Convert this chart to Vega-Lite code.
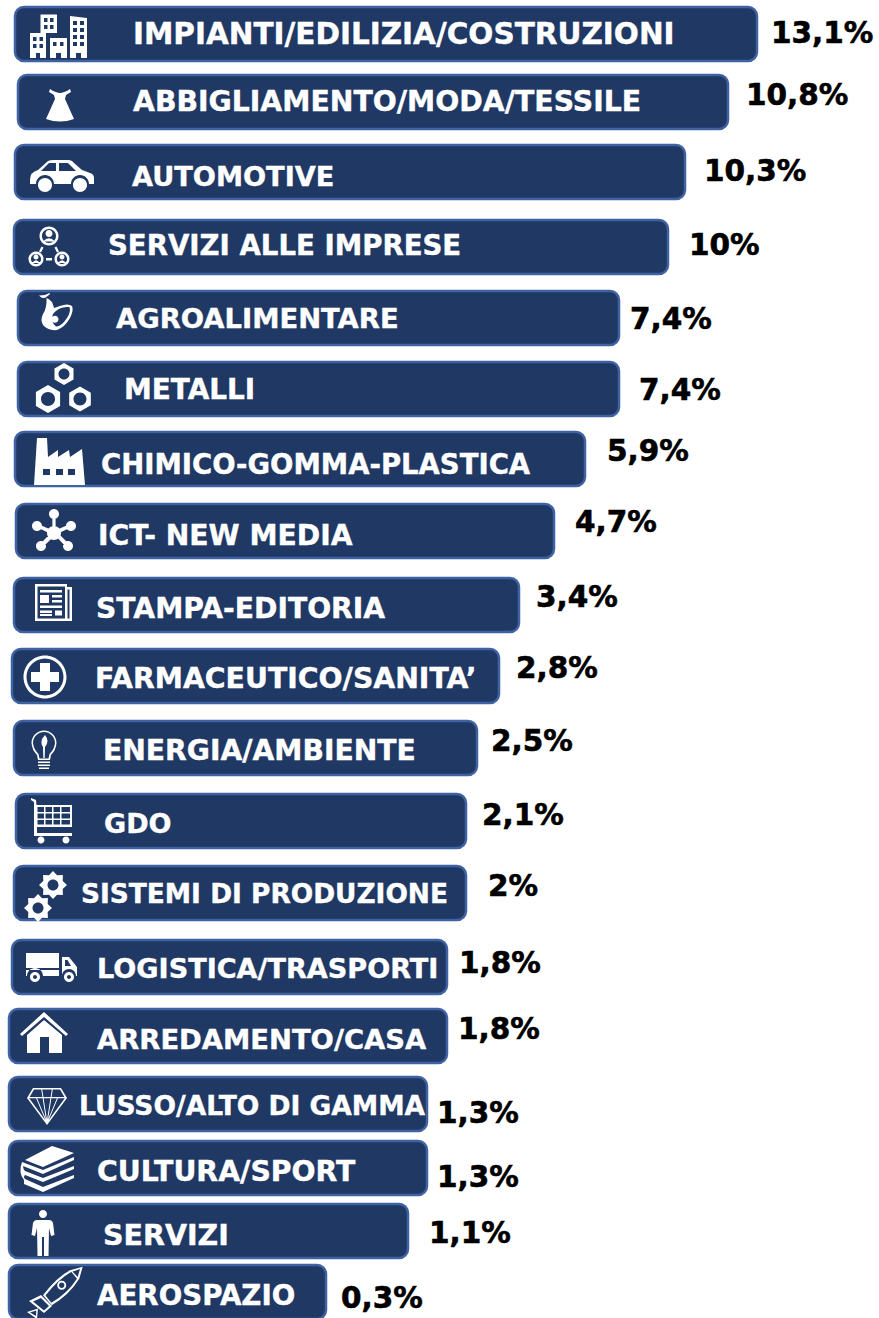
{
"$schema":"https://vega.github.io/schema/vega-lite/v6.json",
"width":879,"height":1318,"padding":0,"autosize":{"type":"none"},"background":"white",
"config":{"view":{"stroke":null},"axis":{"domain":false}},
"data":{"values":[
{"rank":1,"settore":"IMPIANTI/EDILIZIA/COSTRUZIONI","valore":13.1,"etichetta":"13,1%"},
{"rank":2,"settore":"ABBIGLIAMENTO/MODA/TESSILE","valore":10.8,"etichetta":"10,8%"},
{"rank":3,"settore":"AUTOMOTIVE","valore":10.3,"etichetta":"10,3%"},
{"rank":4,"settore":"SERVIZI ALLE IMPRESE","valore":10,"etichetta":"10%"},
{"rank":5,"settore":"AGROALIMENTARE","valore":7.4,"etichetta":"7,4%"},
{"rank":6,"settore":"METALLI","valore":7.4,"etichetta":"7,4%"},
{"rank":7,"settore":"CHIMICO-GOMMA-PLASTICA","valore":5.9,"etichetta":"5,9%"},
{"rank":8,"settore":"ICT- NEW MEDIA","valore":4.7,"etichetta":"4,7%"},
{"rank":9,"settore":"STAMPA-EDITORIA","valore":3.4,"etichetta":"3,4%"},
{"rank":10,"settore":"FARMACEUTICO/SANITA’","valore":2.8,"etichetta":"2,8%"},
{"rank":11,"settore":"ENERGIA/AMBIENTE","valore":2.5,"etichetta":"2,5%"},
{"rank":12,"settore":"GDO","valore":2.1,"etichetta":"2,1%"},
{"rank":13,"settore":"SISTEMI DI PRODUZIONE","valore":2,"etichetta":"2%"},
{"rank":14,"settore":"LOGISTICA/TRASPORTI","valore":1.8,"etichetta":"1,8%"},
{"rank":15,"settore":"ARREDAMENTO/CASA","valore":1.8,"etichetta":"1,8%"},
{"rank":16,"settore":"LUSSO/ALTO DI GAMMA","valore":1.3,"etichetta":"1,3%"},
{"rank":17,"settore":"CULTURA/SPORT","valore":1.3,"etichetta":"1,3%"},
{"rank":18,"settore":"SERVIZI","valore":1.1,"etichetta":"1,1%"},
{"rank":19,"settore":"AEROSPAZIO","valore":0.3,"etichetta":"0,3%"}
]},
"resolve":{"scale":{"x":"independent","y":"independent","size":"independent","shape":"independent"}},
"layer":[
{"transform":[{"calculate":"-datum.rank","as":"inizio"}],
 "mark":{"type":"bar","orient":"horizontal","size":54,"fill":"#203864","stroke":"#3f62a3","strokeWidth":2.5,"cornerRadius":9,"clip":false},
 "encoding":{
  "y":{"field":"rank","type":"quantitative","axis":null,"scale":{"type":"linear","zero":false,"nice":false,"padding":0,"domain":[1,2,3,4,5,6,7,8,9,10,11,12,13,14,15,16,17,18,19],"range":[34,102,172,247,318,389,459,531,605,676,748,821,893,967,1036,1104,1168,1231,1292]}},
  "x":{"field":"inizio","type":"quantitative","axis":null,"scale":{"type":"linear","zero":false,"nice":false,"padding":0,"domain":[-19,-18,-17,-16,-15,-14,-13,-12,-11,-10,-9,-8,-7,-6,-5,-4,-3,-2,-1,0.3,1.1,1.3,1.8,2,2.1,2.5,2.8,3.4,4.7,5.9,7.4,10,10.3,10.8,13.1],"range":[9,9,9,9,9,12,14,16,14,12,14,16,15,18,18,14,15,18,15,326,408,427,447,466,466,477,499,519,554,585,619,668,685,728,757]}},
  "x2":{"field":"valore"}
 }},
{"mark":{"type":"text","font":"DejaVu Sans","fontWeight":"bold","align":"left","baseline":"middle","fill":"white","stroke":"white","strokeWidth":0.4,"dy":2},
 "encoding":{
  "text":{"field":"settore"},
  "size":{"field":"rank","type":"quantitative","legend":null,"scale":{"type":"linear","zero":false,"nice":false,"domain":[1,2,3,4,5,6,7,8,9,10,11,12,13,14,15,16,17,18,19],"range":[29.5,28.3,27.2,27.6,27.4,27.9,27.5,28.2,28.2,28.3,28.2,27,26.4,27.1,27.4,26.5,28.3,28.5,27.7]}},
  "y":{"field":"rank","type":"quantitative","axis":null,"scale":{"type":"linear","zero":false,"nice":false,"domain":[1,2,3,4,5,6,7,8,9,10,11,12,13,14,15,16,17,18,19],"range":[33,101,176,245,318,389,464,535,608,678,750,823,893,968,1039,1105,1171,1234,1295]}},
  "x":{"field":"rank","type":"quantitative","axis":null,"scale":{"type":"linear","zero":false,"nice":false,"domain":[1,2,3,4,5,6,7,8,9,10,11,12,13,14,15,16,17,18,19],"range":[133,133,132,108,116,124,101,98,96,95,103,104,81,97,97,79,97,103,97]}}
 }},
{"mark":{"type":"text","font":"DejaVu Sans","fontWeight":"bold","fontSize":29.5,"align":"left","baseline":"middle","fill":"black","stroke":"black","strokeWidth":0.6,"dy":1},
 "encoding":{
  "text":{"field":"etichetta"},
  "y":{"field":"rank","type":"quantitative","axis":null,"scale":{"type":"linear","zero":false,"nice":false,"domain":[1,2,3,4,5,6,7,8,9,10,11,12,13,14,15,16,17,18,19],"range":[33,95,171,245,319,390,451,522,597,668,741,815,886,963,1029,1113,1177,1233,1298]}},
  "x":{"field":"rank","type":"quantitative","axis":null,"scale":{"type":"linear","zero":false,"nice":false,"domain":[1,2,3,4,5,6,7,8,9,10,11,12,13,14,15,16,17,18,19],"range":[771,746,704,689,630,639,607,575,536,516,491,482,488,459,458,437,437,429,341]}}
 }},
{"mark":{"type":"point","filled":true,"size":4,"fill":"white","opacity":1,"strokeWidth":0},
 "encoding":{
  "y":{"field":"rank","type":"quantitative","axis":null,"scale":{"type":"linear","zero":false,"nice":false,"domain":[1,2,3,4,5,6,7,8,9,10,11,12,13,14,15,16,17,18,19],"range":[36,105,176,246,312,388,462,530,603,677,750,820,896,967,1032,1106,1170,1233,1292]}},
  "x":{"field":"rank","type":"quantitative","axis":null,"scale":{"type":"linear","zero":false,"nice":false,"domain":[1,2,3,4,5,6,7,8,9,10,11,12,13,14,15,16,17,18,19],"range":[58,60,62,49,56,63,59,54,53,45,44,52,46,51,44,47,47,43,55]}},
  "shape":{"field":"settore","type":"nominal","legend":null,"scale":{"domain":["IMPIANTI/EDILIZIA/COSTRUZIONI","ABBIGLIAMENTO/MODA/TESSILE","AUTOMOTIVE","SERVIZI ALLE IMPRESE","AGROALIMENTARE","METALLI","CHIMICO-GOMMA-PLASTICA","ICT- NEW MEDIA","STAMPA-EDITORIA","FARMACEUTICO/SANITA’","ENERGIA/AMBIENTE","GDO","SISTEMI DI PRODUZIONE","LOGISTICA/TRASPORTI","ARREDAMENTO/CASA","LUSSO/ALTO DI GAMMA","CULTURA/SPORT","SERVIZI","AEROSPAZIO"],
  "range":[
"M -17.5 -21.5 H -1 V -3 H -17.5 Z M -14 -18 V -14 H -10.5 V -18 Z M -8 -18 V -14 H -4.5 V -18 Z M -14 -11 V -7 H -10.5 V -11 Z M -8 -11 V -7 H -4.5 V -11 Z M -28 -3 H -12 V 22 H -18 V 17 H -22 V 22 H -28 Z M -25 1 V 5 H -21.5 V 1 Z M -18.5 1 V 5 H -15 V 1 Z M -25 8 V 12 H -21.5 V 8 Z M -18.5 8 V 12 H -15 V 8 Z M -8 2 H 9 V 22 H 3 V 17 H -2 V 22 H -8 Z M -5 6 V 10 H -1.5 V 6 Z M 2 6 V 10 H 5.5 V 6 Z M 12 -20 L 29 -18 V 22 H 23 V 17 H 18 V 22 H 12 Z M 15 -15 V -11 H 19 V -15 Z M 22 -15 V -11 H 26 V -15 Z M 15 -8 V -4 H 19 V -8 Z M 22 -8 V -4 H 26 V -8 Z M 15 -1 V 3 H 19 V -1 Z M 22 -1 V 3 H 26 V -1 Z M 15 6 V 10 H 19 V 6 Z M 22 6 V 10 H 26 V 6 Z",
"M -10 -16 L -7 -14 L -4 -13 Q 0 -11 4 -13 L 7 -14 L 10 -16 L 11 -13 L 6 -10 L 5 -6 L 14 14 Q 0 19 -14 14 L -5 -6 L -6 -10 L -11 -13 Z",
"M -32 4 Q -32 -4 -24 -6 L -14 -15 Q -12 -16 -8 -16 L 6 -16 Q 10 -16 12 -13 L 20 -6 L 28 -3 Q 32 -2 32 2 L 32 8 L 27 8 A 9 9 0 0 0 9 8 L -8 8 A 9 9 0 0 0 -26 8 L -32 8 Z M -21 -5 L -6 -5 L -6 -13 L -13 -13 Z M -3 -5 L 14 -5 L 6 -13 L -3 -13 Z M -24 9 A 7 7 0 1 1 -10 9 A 7 7 0 1 1 -24 9 Z M 11 9 A 7 7 0 1 1 25 9 A 7 7 0 1 1 11 9 Z",
"M -9.5 -10 A 9.5 9.5 0 1 1 9.5 -10 A 9.5 9.5 0 1 1 -9.5 -10 Z M -7 -10 A 7 7 0 1 0 7 -10 A 7 7 0 1 0 -7 -10 Z M -3.5 -12.5 A 3.5 3.5 0 1 1 3.5 -12.5 A 3.5 3.5 0 1 1 -3.5 -12.5 Z M -6 -4.5 Q 0 -11 6 -4.5 Z M -20.5 13 A 7.5 7.5 0 1 1 -5.5 13 A 7.5 7.5 0 1 1 -20.5 13 Z M -18 13 A 5 5 0 1 0 -8 13 A 5 5 0 1 0 -18 13 Z M -15.5 11 A 2.5 2.5 0 1 1 -10.5 11 A 2.5 2.5 0 1 1 -15.5 11 Z M -17 17 Q -13 11.5 -9 17 Z M 5.5 13 A 7.5 7.5 0 1 1 20.5 13 A 7.5 7.5 0 1 1 5.5 13 Z M 8 13 A 5 5 0 1 0 18 13 A 5 5 0 1 0 8 13 Z M 10.5 11 A 2.5 2.5 0 1 1 15.5 11 A 2.5 2.5 0 1 1 10.5 11 Z M 9 17 Q 13 11.5 17 17 Z M -7.5 0.5 L -5.5 1.5 L -8 6.5 L -10 5.5 Z M 5.5 1.5 L 7.5 0.5 L 10 5.5 L 8 6.5 Z M -3 12 H 3 V 14.5 H -3 Z",
"M -17 -16.5 L -11 -17 L -6.5 -19 L -6 -18 L -9 -15.5 Q -13 -12 -17 -16.5 Z M -9.5 -14 Q -3.5 -12 -2 -4 L 4 -6 Q 12 -9 16 -6 Q 18 -2 14 6 Q 9 15 1 18 Q -8 19 -13 13 Q -16 8 -13 2 Q -9 -4 -9.5 -14 Z M 13.5 -5 Q 3 -6 -3 2 Q -6 10 0 14.5 Q 5 15 11 6 Q 15 0 13.5 -5 Z M -4.5 7.3 A 3.5 3.5 0 1 1 2.5 7.3 A 3.5 3.5 0 1 1 -4.5 7.3 Z",
"M 1 -25 L 10.5 -19.5 L 10.5 -8.5 L 1 -3 L -8.5 -8.5 L -8.5 -19.5 Z M -4.5 -14 A 5.5 5.5 0 1 0 6.5 -14 A 5.5 5.5 0 1 0 -4.5 -14 Z M -15 -3 L -2.9 4 L -2.9 18 L -15 25 L -27.1 18 L -27.1 4 Z M -22 11 A 7 7 0 1 0 -8 11 A 7 7 0 1 0 -22 11 Z M 17 -1.5 L 27.8 4.75 L 27.8 17.25 L 17 23.5 L 6.2 17.25 L 6.2 4.75 Z M 10.5 11 A 6.5 6.5 0 1 0 23.5 11 A 6.5 6.5 0 1 0 10.5 11 Z",
"M -25 23 L -22 -24 L -12 -24 L -11 -5 L -1 -12 L -1 -5 L 10 -12 L 11 -5 L 23 -13 L 26 23 Z M -16 7 V 13 H -9 V 7 Z M -3 7 V 13 H 4 V 7 Z M 9 7 V 13 H 16 V 7 Z",
"M -7 3 A 7 7 0 1 1 7 3 A 7 7 0 1 1 -7 3 Z M -5 -16 A 5 5 0 1 1 5 -16 A 5 5 0 1 1 -5 -16 Z M -1.6 -16 H 1.6 V 3 H -1.6 Z M 12 -4 A 5 5 0 1 1 22 -4 A 5 5 0 1 1 12 -4 Z M -22 -4 A 5 5 0 1 1 -12 -4 A 5 5 0 1 1 -22 -4 Z M 9 16 A 5 5 0 1 1 19 16 A 5 5 0 1 1 9 16 Z M -18 16 A 5 5 0 1 1 -8 16 A 5 5 0 1 1 -18 16 Z M 0 1 L 16 -6 L 17.5 -3 L 1 5 Z M 0 1 L -1 5 L -17.5 -3 L -16 -6 Z M -2 2 L 1 0 L 16 15 L 13 18 Z M -1 1 L 2 4 L -12 18 L -15 15 Z",
"M -18 -19 H 14 V -16 H 19 V 18 H -18 Z M -15.5 -16.5 V 15.5 H 12 V -16.5 Z M 14.5 -13.5 V 15.5 H 16.5 V -13.5 Z M -13 -13 H 9 V -10.5 H -13 Z M -13 -8 H -4 V 0 H -13 Z M -1 -8 H 9 V -5.5 H -1 Z M -1 -3 H 9 V -0.5 H -1 Z M -13 2.5 H 9 V 5 H -13 Z M -13 7.5 H -1 V 10 H -13 Z M 2 7.5 H 9 V 12.5 H 2 Z M -13 11 H -1 V 13 H -13 Z",
"M -21.5 0 A 21.5 21.5 0 1 1 21.5 0 A 21.5 21.5 0 1 1 -21.5 0 Z M -18.5 0 A 18.5 18.5 0 1 0 18.5 0 A 18.5 18.5 0 1 0 -18.5 0 Z M -5 -14 H 5 V -5 H 14 V 5 H 5 V 14 H -5 V 5 H -14 V -5 H -5 Z",
"M -12.5 -7 A 12.5 12.5 0 1 1 12.5 -7 Q 12 0 7 5 L 6 10 L -6 10 L -7 5 Q -12 0 -12.5 -7 Z M -11 -7 Q -10.5 -1 -5.5 4 L -4.5 8.5 L 4.5 8.5 L 5.5 4 Q 10.5 -1 11 -7 A 11 11 0 1 0 -11 -7 Z M 1 -15 Q 6 -9 1 -3 L 0.7 8 L -0.7 8 L -1 -3 Q -5 -9 1 -15 Z M -6 11.5 H 6 V 13 H -6 Z M -6 14.5 H 6 V 16 H -6 Z M -5 17.5 H 5 V 19 H -5 Z",
"M -21 -22 L -16 -20 L -15.5 -15 H 20 V 7 H -15 V 13 H 20 V 16 H -18 V -18 L -21 -20 Z M -14.5 -13 V -8 H -8 V -13 Z M -6.5 -13 V -8 H 0 V -13 Z M 1.5 -13 V -8 H 8 V -13 Z M 9.5 -13 V -8 H 18 V -13 Z M -14.5 -6.5 V -1.5 H -8 V -6.5 Z M -6.5 -6.5 V -1.5 H 0 V -6.5 Z M 1.5 -6.5 V -1.5 H 8 V -6.5 Z M 9.5 -6.5 V -1.5 H 18 V -6.5 Z M -14.5 0 V 4.5 H -8 V 0 Z M -6.5 0 V 4.5 H 0 V 0 Z M 1.5 0 V 4.5 H 8 V 0 Z M 9.5 0 V 4.5 H 18 V 0 Z M -14.5 20 A 3.5 3.5 0 1 1 -7.5 20 A 3.5 3.5 0 1 1 -14.5 20 Z M 10.5 20 A 3.5 3.5 0 1 1 17.5 20 A 3.5 3.5 0 1 1 10.5 20 Z",
"M 21 -11 L 16.7 -7 L 16.9 -1.1 L 11 -1.3 L 7 3 L 3 -1.3 L -2.9 -1.1 L -2.7 -7 L -7 -11 L -2.7 -15 L -2.9 -20.9 L 3 -20.7 L 7 -25 L 11 -20.7 L 16.9 -20.9 L 16.7 -15 Z M 1.5 -11 A 5.5 5.5 0 1 0 12.5 -11 A 5.5 5.5 0 1 0 1.5 -11 Z M 6 12 L 1.7 16 L 1.9 21.9 L -4 21.7 L -8 26 L -12 21.7 L -17.9 21.9 L -17.7 16 L -22 12 L -17.7 8 L -17.9 2.1 L -12 2.3 L -8 -2 L -4 2.3 L 1.9 2.1 L 1.7 8 Z M -13.5 12 A 5.5 5.5 0 1 0 -2.5 12 A 5.5 5.5 0 1 0 -13.5 12 Z",
"M -25 -14 H 8 V 1 H -25 Z M -25 3 H 8 V 9 H -8 A 8 8 0 0 0 -24 9 H -25 Z M 11 -10 L 18 -10 L 26 0 L 26 9 L 25 9 A 7 7 0 0 0 11 9 Z M 14 -7 V -1 H 20 L 16.5 -7 Z M -21 10 A 5 5 0 1 1 -11 10 A 5 5 0 1 1 -21 10 Z M -18 10 A 2 2 0 1 0 -14 10 A 2 2 0 1 0 -18 10 Z M 13 10 A 5 5 0 1 1 23 10 A 5 5 0 1 1 13 10 Z M 16 10 A 2 2 0 1 0 20 10 A 2 2 0 1 0 16 10 Z",
"M 0 -20 L 24 2 L 22 4 L 0 -15 L -22 4 L -24 2 Z M 0 -12 L 18 3 L 18 21 L 5 21 L 5 5 L -4 5 L -4 21 L -17 21 L -17 3 Z",
"M -14 -18 H 14 L 20 -8 L 0 19 L -20 -8 Z M -13 -16.5 L -18 -8 L 0 16.5 L 18 -8 L 13 -16.5 Z M -19 -9 H 19 V -7.8 H -19 Z M -6 -18 L -5 -18 L 0.5 17 L -0.5 17 Z M 5 -18 L 6 -18 L 0.5 17 L -0.5 17 Z M -11 -8 L -10 -8 L 0.5 17 L -0.5 17 Z M 10 -8 L 11 -8 L 0.5 17 L -0.5 17 Z",
"M 5 -24 L 27 -17 L -4 -3 L -22 -10 Z M -25 -8 L -4 0 L 27 -13 L 27 -10 L -4 4 L -24 -4 Q -24 -1 -22 1 L -4 8 L 27 -4 L 27 -1 L -4 12 L -22 5 Q -24 7 -22 9 L -4 17 L 27 5 L 27 8 L -4 22 L -23 14 L -23 10 Q -29 3 -25 -8 Z",
"M -4 -19 A 4 4 0 1 1 4 -19 A 4 4 0 1 1 -4 -19 Z M -6 -13 H 6 Q 9 -13 10 -10 L 11.5 2 L 8 3 L 6 -5 L 5.5 23 L 1 23 L 1 4 L -1 4 L -1 23 L -5.5 23 L -6 -5 L -8 3 L -11.5 2 L -10 -10 Q -9 -13 -6 -13 Z",
"M 27.7 -25.3 L 15 -21.7 Q 2 -15 -12 3.3 L -3.3 13.3 Q 14 3 24.3 -13.3 Z M 25 -23 L 22.3 -13.8 Q 12.5 1.5 -3.7 10.7 L -9.5 3.5 Q 3 -12.5 15.7 -19.7 Z M 15 -21.7 L 23 -12 L 24.3 -13.3 L 16.5 -21.5 Z M 2.2 -6.7 A 4.5 4.5 0 1 1 11.2 -6.7 A 4.5 4.5 0 1 1 2.2 -6.7 Z M 4 -6.7 A 2.7 2.7 0 1 0 9.4 -6.7 A 2.7 2.7 0 1 0 4 -6.7 Z M -14 3 L -3 14 L -11 21 L -26 9 Z M -14 6 L -22 9.5 L -11 18.5 L -6 14 Z M -28 20 L -17 16.5 L -18 27 Z M -25 20.5 L -19 24 L -18.7 18.5 Z"
]}}
 }}
]
}
